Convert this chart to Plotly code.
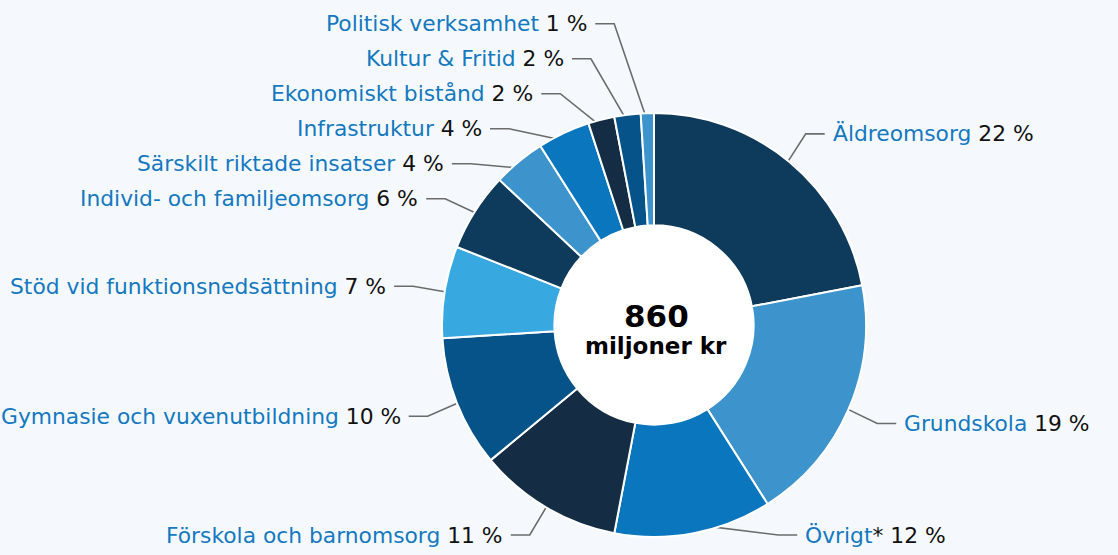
import math
import plotly.graph_objects as go

# ---------------- data ----------------
categories = [
    "Äldreomsorg", "Grundskola", "Övrigt*", "Förskola och barnomsorg",
    "Gymnasie och vuxenutbildning", "Stöd vid funktionsnedsättning",
    "Individ- och familjeomsorg", "Särskilt riktade insatser",
    "Infrastruktur", "Ekonomiskt bistånd", "Kultur & Fritid", "Politisk verksamhet",
]
percent_values = [22, 19, 12, 11, 10, 7, 6, 4, 4, 2, 2, 1]
slice_colors = [
    "#0e3a5c", "#3d93cb", "#0a76be", "#142d44", "#055389", "#38a9e0",
    "#0e3a5c", "#3d93cb", "#0a76be", "#142d44", "#055389", "#3d93cb",
]
center_value = "860"
center_unit = "miljoner kr"

# ---------------- layout constants (pixels) ----------------
W, H = 1118, 555
CX, CY = 654, 325          # pie centre
R = 212                    # outer radius
HOLE = 0.47
R_DOT = 203                # radius of connector dots
R_BREAK = 244              # radius where connector bends
HSEG = 19                  # horizontal segment of connector
TGAP = 6                   # gap between connector and text
GAP = 35                   # min vertical spacing between labels
TOP_Y, BOT_Y = 20, 535
LABEL_BLUE = "#1479c0"
FONT = "DejaVu Sans, Verdana, sans-serif"
FS = 21.8

total = sum(percent_values)
mids = []
acc = 0.0
for v in percent_values:
    mids.append((acc + v / 2) / total * 360.0)
    acc += v


def pt(theta, r):
    t = math.radians(theta)
    return CX + r * math.sin(t), CY - r * math.cos(t)


def distribute(targets):
    clusters = [[t] for t in targets]

    def pos(c):
        n = len(c)
        m = sum(t[0] for t in c) / n - (n - 1) * GAP / 2
        return min(max(m, TOP_Y), BOT_Y - (n - 1) * GAP)

    changed = True
    while changed:
        changed = False
        for i in range(len(clusters) - 1):
            a, b = clusters[i], clusters[i + 1]
            if pos(a) + len(a) * GAP > pos(b):
                clusters[i] = a + b
                del clusters[i + 1]
                changed = True
                break
    out = {}
    for c in clusters:
        p = pos(c)
        for k, t in enumerate(c):
            out[t[1]] = p + k * GAP
    return out


right = sorted([(CY - 248 * math.cos(math.radians(m)), i) for i, m in enumerate(mids) if m < 180])
left = sorted([(CY - 248 * math.cos(math.radians(m)), i) for i, m in enumerate(mids) if m >= 180])
label_y = {}
label_y.update(distribute(right))
label_y.update(distribute(left))

fig = go.Figure()
fig.add_trace(go.Pie(
    labels=categories, values=percent_values, sort=False, direction="clockwise",
    rotation=0, hole=HOLE, textinfo="none", hoverinfo="label+percent",
    marker=dict(colors=slice_colors, line=dict(color="white", width=2)),
    domain=dict(x=[(CX - R) / W, (CX + R) / W], y=[(H - CY - R) / H, (H - CY + R) / H]),
    showlegend=False,
))

line_x, line_y, dot_x, dot_y = [], [], [], []
annotations = []
for i, m in enumerate(mids):
    side = 1 if m < 180 else -1
    y = label_y[i]
    dy = y - CY
    nat_dx = abs(248 * math.sin(math.radians(m)))
    if abs(dy) < R_BREAK * 0.92:
        bdx = math.sqrt(R_BREAK ** 2 - dy ** 2)
    else:
        bdx = nat_dx + 32
    bx = CX + side * bdx
    ex = bx + side * HSEG
    dx_, dy_ = pt(m, R_DOT)
    line_x += [dx_, bx, ex, None]
    line_y += [dy_, y, y, None]
    dot_x.append(dx_)
    dot_y.append(dy_)
    txt = (f"<span style='color:{LABEL_BLUE}'>{categories[i].rstrip('*')}</span>"
           + ("*" if categories[i].endswith("*") else "")
           + f" {percent_values[i]} %")
    annotations.append(dict(
        x=ex + side * TGAP, y=y, xref="x", yref="y", text=txt, showarrow=False,
        xanchor="left" if side > 0 else "right", yanchor="middle",
        font=dict(family=FONT, size=FS, color="#111111"),
    ))

fig.add_trace(go.Scatter(x=line_x, y=line_y, mode="lines", hoverinfo="skip",
                         line=dict(color="#6b6b6b", width=1.6), showlegend=False))
fig.add_trace(go.Scatter(x=dot_x, y=dot_y, mode="markers", hoverinfo="skip",
                         marker=dict(size=8.5, color="white", line=dict(color="#6b6b6b", width=1.6)),
                         showlegend=False))

annotations.append(dict(x=CX + 2, y=CY - 9, xref="x", yref="y", text=f"<b>{center_value}</b>",
                        showarrow=False, font=dict(family=FONT, size=31, color="#000000"),
                        xanchor="center", yanchor="middle"))
annotations.append(dict(x=CX + 2, y=CY + 21, xref="x", yref="y", text=f"<b>{center_unit}</b>",
                        showarrow=False, font=dict(family=FONT, size=23, color="#000000"),
                        xanchor="center", yanchor="middle"))

hr = R * HOLE + 1
fig.update_layout(
    width=W, height=H, margin=dict(l=0, r=0, t=0, b=0),
    paper_bgcolor="#f5f9fd", plot_bgcolor="rgba(0,0,0,0)",
    xaxis=dict(range=[0, W], visible=False, domain=[0, 1], fixedrange=True),
    yaxis=dict(range=[H, 0], visible=False, domain=[0, 1], fixedrange=True),
    annotations=annotations,
    shapes=[dict(type="circle", xref="x", yref="y", x0=CX - hr, x1=CX + hr,
                 y0=CY - hr, y1=CY + hr, fillcolor="white", line=dict(width=0),
                 layer="below")],
)

fig.write_html(
    "out.html",
    config={"displayModeBar": False},
    post_script="document.body.style.margin='0';document.body.style.padding='0';"
                "document.body.style.overflow='hidden';document.body.style.background='#f5f9fd';",
)
